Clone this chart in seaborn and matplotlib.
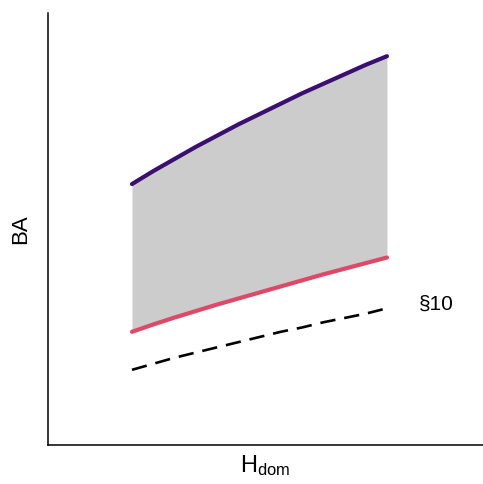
import matplotlib
matplotlib.use("Agg")
from matplotlib import pyplot as plt
import pandas as pd
import seaborn as sns

# values
h_dom = [10, 12.5, 15, 17.5, 20, 22.5, 25, 27.5, 30, 32.5, 35, 37.5, 40]
ba_upper = [30.2, 31.7, 33.1, 34.5, 35.8, 37.1, 38.3, 39.5, 40.7, 41.8, 42.9, 44.0, 45.0]
ba_lower = [13.1, 13.95, 14.75, 15.5, 16.25, 16.95, 17.65, 18.35, 19.05, 19.75, 20.4, 21.05, 21.7]

h_dom_ref = [10, 12.5, 15, 17.5, 20, 22.5, 25, 27.5, 30, 32.5, 35, 37.5, 39.5]
ba_ref = [8.7, 9.4, 10.1, 10.7, 11.3, 11.9, 12.5, 13.1, 13.6, 14.2, 14.7, 15.2, 15.7]

ref_label = "§10"

sns.set_style("white")
plt.rcParams["font.family"] = ["Liberation Sans", "DejaVu Sans"]
plt.rcParams["mathtext.default"] = "regular"
plt.rcParams["text.color"] = "black"
plt.rcParams["axes.labelcolor"] = "black"

fig = plt.figure(figsize=(4.83, 4.84), dpi=100)
ax = fig.add_axes([48 / 483, 39 / 484, 435 / 483, 432 / 484])

band = pd.DataFrame({"h": h_dom, "upper": ba_upper, "lower": ba_lower})
ref = pd.DataFrame({"h": h_dom_ref, "ba": ba_ref})

ax.fill_between(band["h"], band["lower"], band["upper"], color="#cccccc", lw=0)
sns.lineplot(data=band, x="h", y="upper", ax=ax, color="#3b0f70", lw=3)
sns.lineplot(data=band, x="h", y="lower", ax=ax, color="#de4968", lw=3)
sns.lineplot(data=ref, x="h", y="ba", ax=ax, color="black", lw=1.9,
             linestyle=(0, (5.8, 3.4)))

ax.text(43.8, 16.3, ref_label, fontsize=15, ha="left", va="center")

ax.set_xlim(0.12, 51.3)
ax.set_ylim(0, 50)
ax.set_xticks([])
ax.set_yticks([])
ax.set_xlabel("$H_{dom}$", fontsize=17, labelpad=6)
ax.set_ylabel("BA", fontsize=16, labelpad=12)

sns.despine(ax=ax)
for side in ["left", "bottom"]:
    ax.spines[side].set_color("black")
    ax.spines[side].set_linewidth(1.1)

fig.savefig("out.png", dpi=100)
